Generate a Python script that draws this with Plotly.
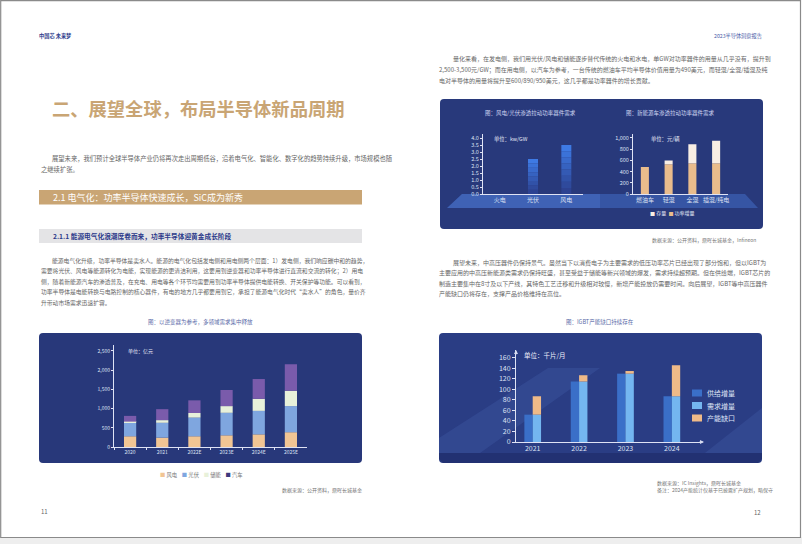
import plotly.graph_objects as go
import numpy as np

W, H = 802, 544
FONT = "Noto Sans CJK SC"

# ---------------- data ----------------
years_a = ["2020", "2021", "2022E", "2023E", "2024E", "2025E"]
names_a = ["风电", "光伏", "储能", "汽车"]
wind_a = [280, 245, 280, 305, 330, 385]
pv_a = [345, 385, 485, 585, 610, 680]
storage_a = [35, 70, 120, 175, 315, 400]
auto_a = [150, 285, 330, 420, 515, 690]
ticks_a = [0, 500, 1000, 1500, 2000, 2500]

cats_b1 = ["火电", "光伏", "风电"]
vals_b1 = [0, 2.5, 3.5]
ticks_b1 = [0, 0.5, 1.0, 1.5, 2.0, 2.5, 3.0, 3.5, 4.0]

cats_b2 = ["燃油车", "轻混", "全混", "插混/纯电"]
base_b2 = [480, 530, 550, 550]
inc_b2 = [0, 70, 340, 400]
names_b2 = ["存量", "功率增量"]
ticks_b2 = [0, 200, 400, 600, 800, 1000]

years_c = ["2021", "2022", "2023", "2024"]
supply_c = [52, 115, 130, 87]
gap_c = [35, 12, 5, 59]
names_c = ["供给增量", "需求增量", "产能缺口"]
ticks_c = [0, 20, 40, 60, 80, 100, 120, 140, 160]

BODY = 6.0


def X(px):
    return px / W


def Y(py):
    return 1 - py / H


def P(x, y):
    return f"{x / W:.5f},{1 - y / H:.5f}"


def rrect(x0, y0, x1, y1, r):
    return (f"M{P(x0 + r, y0)} L{P(x1 - r, y0)} Q{P(x1, y0)} {P(x1, y0 + r)} "
            f"L{P(x1, y1 - r)} Q{P(x1, y1)} {P(x1 - r, y1)} L{P(x0 + r, y1)} "
            f"Q{P(x0, y1)} {P(x0, y1 - r)} L{P(x0, y0 + r)} Q{P(x0, y0)} {P(x0 + r, y0)} Z")


def poly(pts):
    return "M" + " L".join(P(x, y) for x, y in pts) + " Z"


shapes = []
annotations = []


def txt(x, y, text, size=BODY, color="#666666", xanchor="left", bold=False):
    if bold:
        text = f"<b>{text}</b>"
    annotations.append(dict(x=X(x), y=Y(y), xref="paper", yref="paper", text=text,
                            showarrow=False, xanchor=xanchor, yanchor="middle", borderpad=0,
                            font=dict(family=FONT, size=size, color=color)))


def shape_path(path, fill, line=None, layer="below"):
    d = dict(type="path", path=path, xref="paper", yref="paper", fillcolor=fill,
             line=dict(width=0) if line is None else line, layer=layer)
    shapes.append(d)


# ---------------- page frame ----------------
shapes.append(dict(type="rect", xref="paper", yref="paper", x0=0, x1=1, y0=0, y1=Y(537.5),
                   fillcolor="#eeeeee", line=dict(width=0), layer="below"))
shapes.append(dict(type="rect", xref="paper", yref="paper", x0=X(0.7), x1=X(800.5),
                   y0=Y(537.5), y1=Y(0.7), fillcolor="rgba(0,0,0,0)",
                   line=dict(width=1.2, color="#8a8a8a"), layer="below"))

# headers
txt(38, 36, "中国芯 未来梦", 5.2, "#2c3a8a", bold=True)
txt(763, 36, "2023半导体洞察报告", 5.2, "#4a5aa8", xanchor="right")

# title
txt(51, 108, "二、展望全球，布局半导体新品周期", 18.3, "#c9a574", bold=True)

# paragraph 1
txt(51, 159, "展望未来，我们预计全球半导体产业仍将再次走出周期低谷，沿着电气化、智能化、数字化的趋势持续升级，市场规模也随", 6.3)
txt(40, 169.5, "之继续扩张。", 6.3)

# section bars
shapes.append(dict(type="rect", xref="paper", yref="paper", x0=X(39), x1=X(362), y0=Y(204.5), y1=Y(190),
                   fillcolor="#c9a574", line=dict(width=0), layer="below"))
txt(52, 197.5, "2.1 电气化：功率半导体快速成长，SiC成为新秀", 9, "#ffffff")
shapes.append(dict(type="rect", xref="paper", yref="paper", x0=X(39), x1=X(362), y0=Y(243), y1=Y(229),
                   fillcolor="#e4e4e6", line=dict(width=0), layer="below"))
txt(52, 236, "2.1.1 能源电气化浪潮席卷而来，功率半导体迎黄金成长阶段", 6.7, "#2c3a8a", bold=True)

# paragraph 2
p2 = ["能源电气化升级，功率半导体是卖水人。能源的电气化包括发电侧和用电侧两个层面：1）发电侧，我们响应碳中和的趋势，",
      "需要将光伏、风电等能源转化为电能，实现能源的更清洁利用，这要用到逆变器和功率半导体进行直流和交流的转化；2）用电",
      "侧，随着新能源汽车的渗透普及，在充电、用电等各个环节均需要用到功率半导体提供电能转换、开关保护等功能。可以看到，",
      "功率半导体是电能转换与电路控制的核心器件，有电的地方几乎都要用到它，承担了能源电气化时代“卖水人”的角色，量价齐",
      "升带动市场需求迅速扩容。"]
for i, line in enumerate(p2):
    txt(51 if i == 0 else 40, 260 + i * 10.5, line, 5.8)

# chart A panel
txt(200, 322, "图：以逆变器为参考，多领域需求集中释放", 5.5, "#5a6aa8", xanchor="center")
shape_path(rrect(39, 333, 362, 463, 4), "#28387a")
txt(127, 351, "单位：亿元", 5, "#e0e4f5")
colors_a = ["#f1c594", "#7fa6df", "#e8f1da", "#7a5bab"]
legend_cols_a = ["#f1c594", "#7fa6df", "#e8f1da", "#3d3a7e"]
leg = "    ".join(f"<span style='color:{c}'>■</span> {n}" for c, n in zip(legend_cols_a, names_a))
txt(201, 475, leg, 5.3, "#777777", xanchor="center")
txt(363, 490, "数据来源：公开资料，鼎晖长城基金", 5, "#777777", xanchor="right")
txt(40, 511, "11", 6, "#666666")

# right page text
p3 = ["量化来看，在发电侧，我们用光伏/风电和储能逐步替代传统的火电和水电，单GW对功率器件的用量从几乎没有，提升到",
      "2,500-3,500元/GW；而在用电侧，以汽车为参考，一台传统的燃油车平均半导体价值用量为490美元，而轻混/全混/插混及纯",
      "电对半导体的用量将提升至600/890/950美元，这几乎都是功率器件的增长贡献。"]
for i, line in enumerate(p3):
    txt(452 if i == 0 else 438, 59 + i * 10.5, line)

# chart B panel
shape_path(rrect(440, 99, 763, 229, 4), "#28397b")
shape_path(poly([(447, 208), (462, 194), (745, 194), (758, 208)]), "rgba(70,120,215,0.45)")
shape_path(poly([(447, 208), (462, 194), (600, 194), (600, 208)]), "rgba(90,140,230,0.25)")
txt(530, 113, "图：风电/光伏渗透拉动功率器件需求", 5.5, "#cfd6f2", xanchor="center")
txt(670, 113, "图：新能源车渗透拉动功率器件需求", 5.5, "#cfd6f2", xanchor="center")
txt(493, 139, "单位：kw/GW", 5.3, "#e6e9f7")
txt(650, 139, "单位：元/辆", 5.3, "#e6e9f7")
txt(672, 213, f"<span style='color:#f8eee4'>■</span> {names_b2[0]}  <span style='color:#e9bc8c'>■</span> {names_b2[1]}",
    5, "#e6e9f7", xanchor="center")
txt(757, 240, "数据来源：公开资料，鼎晖长城基金，Infineon", 5, "#777777", xanchor="right")

p4 = ["展望未来，中高压器件仍保持景气。虽然当下以消费电子为主要需求的低压功率芯片已经出现了部分饱和，但以IGBT为",
      "主要应用的中高压新能源类需求仍保持旺盛，甚至受益于储能等新兴领域的爆发，需求持续超预期。但在供给端，IGBT芯片的",
      "制造主要集中在8寸及以下产线，其特色工艺迁移和升级相对较慢，新增产能投放仍需要时间。向后展望，IGBT等中高压器件",
      "产能缺口仍将存在，支撑产品价格维持在高位。"]
for i, line in enumerate(p4):
    txt(452 if i == 0 else 438, 262 + i * 10.5, line)

# chart C panel
txt(600, 322, "图：IGBT产能缺口持续存在", 5.5, "#5a6aa8", xanchor="center")
shape_path(rrect(439, 333, 762, 463, 4), "#2a3d84")
shape_path(poly([(439, 453), (439, 438), (548, 368), (600, 368), (480, 453)]), "rgba(110,150,235,0.13)")
shape_path(poly([(705, 453), (762, 408), (762, 453)]), "rgba(110,150,235,0.13)")
shape_path(poly([(439, 453), (762, 453), (762, 459), (758, 463), (443, 463), (439, 459)]), "rgba(20,30,80,0.35)")
txt(523, 355, "单位：千片/月", 6.5, "#eef0fa")
cols_c = ["#3a6fc8", "#74b6f0", "#efba88"]
for i, (n, c) in enumerate(zip(names_c, cols_c)):
    yy = 393 + i * 12.5
    shapes.append(dict(type="rect", xref="paper", yref="paper", x0=X(692), x1=X(702), y0=Y(yy + 3.5),
                       y1=Y(yy - 3.5), fillcolor=c, line=dict(width=0), layer="above"))
    txt(706, yy, n, 7, "#dfe4f6")
txt(656, 483, "数据来源：IC Insights，鼎晖长城基金", 5, "#777777")
txt(656, 490, "备注：2024产能统计仅基于已披露扩产规划，略保守", 5, "#777777")
txt(762, 512, "12", 6, "#666666", xanchor="right")

# axis arrows for chart C
annotations.append(dict(x=X(704), y=Y(442), ax=-6, ay=0, xref="paper", yref="paper", text="",
                        showarrow=True, arrowhead=2, arrowsize=0.8, arrowwidth=1, arrowcolor="#d8dcf0"))
annotations.append(dict(x=X(516), y=Y(350), ax=0, ay=6, xref="paper", yref="paper", text="",
                        showarrow=True, arrowhead=2, arrowsize=0.8, arrowwidth=1, arrowcolor="#d8dcf0"))

# ---------------- traces ----------------
fig = go.Figure()

# chart A stacked (explicit bases)
stack_a = [wind_a, pv_a, storage_a, auto_a]
base = np.zeros(len(years_a))
for n, vals, c in zip(names_a, stack_a, colors_a):
    fig.add_trace(go.Bar(x=years_a, y=vals, base=base.copy(), name=n, marker=dict(color=c, line=dict(width=0)),
                         width=0.38, xaxis="x", yaxis="y", showlegend=False))
    base = base + np.array(vals)

# chart B1 bars with a vertical gradient (split into bands of the same value)
nseg = 8
grad = [(45, 66, 145), (62, 122, 228)]
for k in range(nseg):
    t = k / (nseg - 1)
    c = tuple(int(grad[0][j] + (grad[1][j] - grad[0][j]) * t) for j in range(3))
    seg = [v / nseg for v in vals_b1]
    fig.add_trace(go.Bar(x=cats_b1, y=seg, base=[v * k / nseg for v in vals_b1],
                         marker=dict(color=f"rgb{c}", line=dict(width=0)), width=0.3,
                         xaxis="x2", yaxis="y2", showlegend=False))

# chart B2
fig.add_trace(go.Bar(x=cats_b2, y=base_b2, base=[0] * len(cats_b2), name=names_b2[1],
                     marker=dict(color="#e9bc8c", line=dict(width=0)), width=0.34,
                     xaxis="x3", yaxis="y3", showlegend=False))
fig.add_trace(go.Bar(x=cats_b2, y=inc_b2, base=base_b2, name=names_b2[0],
                     marker=dict(color="#f8eee4", line=dict(width=0)), width=0.34,
                     xaxis="x3", yaxis="y3", showlegend=False))

# chart C
fig.add_trace(go.Bar(x=years_c, y=supply_c, base=[0] * 4, name=names_c[0], marker=dict(color=cols_c[0], line=dict(width=0)),
                     width=0.18, offset=-0.18, xaxis="x4", yaxis="y4", showlegend=False))
fig.add_trace(go.Bar(x=years_c, y=supply_c, base=[0] * 4, name=names_c[1], marker=dict(color=cols_c[1], line=dict(width=0)),
                     width=0.18, offset=0, xaxis="x4", yaxis="y4", showlegend=False))
fig.add_trace(go.Bar(x=years_c, y=gap_c, base=supply_c, name=names_c[2], marker=dict(color=cols_c[2], line=dict(width=0)),
                     width=0.18, offset=0, xaxis="x4", yaxis="y4", showlegend=False))


def xax(dom, rng, size, anchor, color="#dde1f3", **kw):
    d = dict(domain=[X(dom[0]), X(dom[1])], anchor=anchor, type="category", range=rng, showline=True,
             linecolor="#dfe3f5", linewidth=1, showgrid=False, zeroline=False, fixedrange=True,
             automargin=False, tickfont=dict(family=FONT, size=size, color=color))
    d.update(kw)
    return d


def yax(dom, rng, tv, tt, size, anchor, color="#dde1f3", **kw):
    d = dict(domain=[Y(dom[0]), Y(dom[1])], anchor=anchor, range=rng, tickvals=tv, ticktext=tt,
             showline=True, linecolor="#dfe3f5", linewidth=1, showgrid=False, zeroline=False,
             fixedrange=True, automargin=False, tickfont=dict(family=FONT, size=size, color=color))
    d.update(kw)
    return d


layout = dict(
    width=W, height=H, autosize=False, template="none",
    margin=dict(l=0, r=0, t=0, b=0, pad=0),
    paper_bgcolor="#ffffff", plot_bgcolor="rgba(0,0,0,0)",
    barmode="overlay", showlegend=False,
    xaxis=xax((114, 307), [-0.5, 5.5], 5, "y", ticks="outside", tickson="boundaries",
              ticklen=2, tickcolor="#dfe3f5"),
    yaxis=yax((447, 345), [0, 2656], ticks_a, [f"{v:,}" for v in ticks_a], 5, "x",
              ticks="outside", ticklen=2, tickcolor="#dfe3f5"),
    xaxis2=xax((483, 583), [-0.5, 2.5], 6, "y2", ticks=""),
    yaxis2=yax((194, 133.8), [0, 4.3], ticks_b1, [f"{v:.1f}" for v in ticks_b1], 5.5, "x2",
               ticks="outside", ticklen=2, tickcolor="#dfe3f5"),
    xaxis3=xax((633, 728), [-0.5, 3.5], 6, "y3", ticks=""),
    yaxis3=yax((194, 133.5), [0, 1080], ticks_b2, [f"{v:,}" for v in ticks_b2], 5.5, "x3",
               ticks="outside", ticklen=2, tickcolor="#dfe3f5"),
    xaxis4=xax((516, 702), [-0.36, 3.65], 7, "y4", ticks=""),
    yaxis4=yax((442, 350), [0, 175], ticks_c, [str(v) for v in ticks_c], 7, "x4",
               ticks="outside", ticklen=3, tickcolor="#dfe3f5"),
    shapes=shapes,
    annotations=annotations,
)
fig.update_layout(**layout)
fig.write_html("out.html", config={"displayModeBar": False},
               post_script="document.body.style.margin='0px';document.body.style.overflow='hidden';")
